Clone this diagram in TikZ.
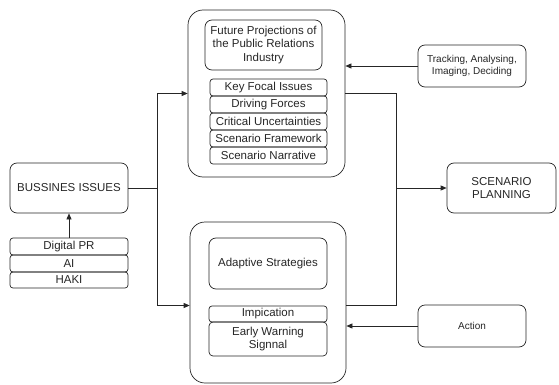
\documentclass[tikz,border=0pt]{standalone}
\usepackage{fontspec}
\setmainfont{Liberation Sans}
\usepackage{tikz}
\usetikzlibrary{arrows.meta,positioning,calc}

\begin{document}
\begin{tikzpicture}[x=1pt,y=-1pt,line width=0.7pt,draw=black!85,text=black!85,
    block/.style={draw,rounded corners=15pt,inner sep=0pt},
    card/.style={draw,rounded corners=7pt,align=center,inner sep=2pt,font=\fontsize{11.5}{13.5}\selectfont},
    smallcard/.style={card,font=\fontsize{10}{12.5}\selectfont},
    row/.style={draw,rounded corners=3pt,minimum width=117pt,minimum height=17pt,inner sep=0pt,font=\fontsize{11.5}{13.5}\selectfont},
    arr/.style={-{Triangle[length=6pt,width=5pt]}}]
        \useasboundingbox (0,0) rectangle (559,385);
        % top block
        \node[block,minimum width=157pt,minimum height=167pt] (top) at (266.5,93.5) {};
        \node[card,minimum width=117pt,minimum height=50pt] (proj) at (263.5,45)
          {Future Projections of\\the Public Relations\\Industry};
        \node[row] (focal) at (268.5,87.5) {Key Focal Issues};
        \node[row] (forces) at (268.5,104.5) {Driving Forces};
        \node[row] (uncert) at (268.5,121.5) {Critical Uncertainties};
        \node[row] (frame) at (268.5,138.5) {Scenario Framework};
        \node[row] (narr) at (268.5,155.5) {Scenario Narrative};
        % bottom block
        \node[block,minimum width=156pt,minimum height=161pt] (bottom) at (268,302.5) {};
        \node[card,minimum width=118pt,minimum height=51pt] (adapt) at (268,263.5) {Adaptive Strategies};
        \node[row,minimum width=118pt,minimum height=16pt] (impl) at (268,314) {Impication};
        \node[card,rounded corners=4pt,minimum width=118pt,minimum height=34pt,inner sep=0pt] (warn) at (268,339)
          {Early Warning\\Signnal};
        % left side
        \node[card,minimum width=118pt,minimum height=50pt] (bus) at (69,188) {BUSSINES ISSUES};
        \node[row,minimum width=118pt] (dpr) at (69,246.5) {Digital PR};
        \node[row,minimum width=118pt] (ai) at (69,263.5) {AI};
        \node[row,minimum width=118pt,minimum height=16pt] (haki) at (69,280) {HAKI};
        % right side
        \node[smallcard,minimum width=108pt,minimum height=42pt] (track) at (472,66)
          {Tracking, Analysing,\\Imaging, Deciding};
        \node[card,minimum width=109pt,minimum height=50pt] (scen) at (501.5,188) {SCENARIO\\PLANNING};
        \node[smallcard,minimum width=108pt,minimum height=42pt] (action) at (472,326) {Action};
        % connectors
        \coordinate (split) at (157,188);
        \coordinate (merge) at (396,188);
        \draw[arr] (dpr.north) -- (bus.south);
        \draw (bus.east) -- (split);
        \draw[arr] (split) |- (top.west);
        \draw[arr] (split) |- ($(bottom.west)+(0,3)$);
        \draw[arr] (track.west) -- (track.west -| top.east);
        \draw[arr] (action.west) -- (action.west -| bottom.east);
        \draw (top.east) -| (merge);
        \draw ($(bottom.east)+(0,3)$) -| (merge);
        \draw[arr] (merge) -- (scen.west);
      \end{tikzpicture}
\end{document}
